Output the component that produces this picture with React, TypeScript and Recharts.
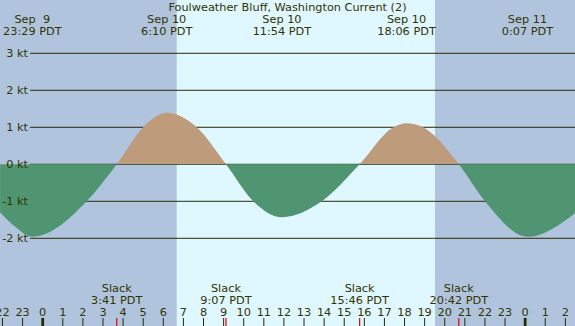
import React from "react";
import {
  ComposedChart,
  Area,
  XAxis,
  YAxis,
  ReferenceArea,
  ReferenceLine,
} from "recharts";

const title = "Foulweather Bluff, Washington Current (2)";

// hours counted from Sep 10 00:00 PDT, speeds in knots (+ flood, - ebb)
const curveHours = [-2.12, -1.38, -0.517, 2.19, 3.683, 5.0, 6.167, 7.66, 9.117, 10.48, 11.9, 13.88, 15.767, 17.44, 18.1, 18.92, 20.7, 22.0, 24.117, 26.48];
const curveKnots = [-1.3, -1.68, -1.96, -1.0, 0, 1.0, 1.39, 1.0, 0, -1.0, -1.43, -1.0, 0, 1.0, 1.11, 1.0, 0, -1.0, -1.96, -1.32];

const eventHours = [-0.517, 6.167, 11.9, 18.1, 24.117];
const eventDates = ["Sep  9", "Sep 10", "Sep 10", "Sep 10", "Sep 11"];
const eventTimes = ["23:29 PDT", "6:10 PDT", "11:54 PDT", "18:06 PDT", "0:07 PDT"];

const slackHours = [3.683, 9.117, 15.767, 20.7];
const slackTimes = ["3:41 PDT", "9:07 PDT", "15:46 PDT", "20:42 PDT"];

const sunrise = 6.667;
const sunset = 19.517;

const hourTicks = [-2, -1, 0, 1, 2, 3, 4, 5, 6, 7, 8, 9, 10, 11, 12, 13, 14, 15, 16, 17, 18, 19, 20, 21, 22, 23, 24, 25, 26];
const knotLevels = [3, 2, 1, 0, -1, -2];

const xDomain = [-2.124, 26.48];
const yDomain = [-4.37, 4.44];
const gridStart = -0.63;

const W = 575;
const H = 326;

const ink = "#333300";
const lineInk = "#2a2a00";
const night = "#b0c4de";
const day = "#dff7ff";
const flood = "#be9b7b";
const ebb = "#509571";
const font = "'DejaVu Sans', Verdana, sans-serif";
const fontSize = 11.3;

const data = curveHours.map((h, i) => ({ h, v: curveKnots[i] }));

const top = Math.max(...curveKnots);
const bottom = Math.min(...curveKnots);
const split = top / (top - bottom);

const layer: React.CSSProperties = { position: "absolute", left: 0, top: 0 };
const margin = { top: 0, right: 0, bottom: 0, left: 0 };

const hourLabel = (h: number) => (props: any) => {
  const { x, y, height } = props.viewBox;
  const base = y + height;
  const hour = ((h % 24) + 24) % 24;
  return (
    <g>
      <text x={x} y={base - 10.3} textAnchor="middle" fill={ink} fontSize={fontSize} fontFamily={font}>
        {hour}
      </text>
      {hour === 0 ? (
        <rect x={x - 1.4} y={base - 8} width={2.8} height={8} fill={lineInk} />
      ) : (
        <line x1={x} x2={x} y1={base - 8} y2={base} stroke={lineInk} strokeWidth={1} />
      )}
    </g>
  );
};

const eventLabel = (date: string, time: string) => (props: any) => {
  const { x, y } = props.viewBox;
  return (
    <text textAnchor="middle" fill={ink} fontSize={fontSize} fontFamily={font} style={{ whiteSpace: "pre" }}>
      <tspan x={x} y={y + 23.3}>{date}</tspan>
      <tspan x={x} y={y + 35}>{time}</tspan>
    </text>
  );
};

const slackLabel = (time: string) => (props: any) => {
  const { x, y, height } = props.viewBox;
  const base = y + height;
  return (
    <g>
      <text textAnchor="middle" fill={ink} fontSize={fontSize} fontFamily={font}>
        <tspan x={x} y={base - 33.7}>Slack</tspan>
        <tspan x={x} y={base - 22}>{time}</tspan>
      </text>
      <line x1={x} x2={x} y1={base - 8} y2={base} stroke="#e00000" strokeWidth={1.2} />
    </g>
  );
};

function KnotTick({ x, y, payload }: any) {
  return (
    <text x={x + 28} y={y + 3.6} textAnchor="end" fill={ink} fontSize={fontSize} fontFamily={font}>
      {`${payload.value} kt`}
    </text>
  );
}

// background: daylight band and knot grid lines (under the current fill)
function Backdrop() {
  return (
    <ComposedChart width={W} height={H} data={data} margin={margin}>
      <XAxis type="number" dataKey="h" domain={xDomain} allowDataOverflow hide />
      <YAxis type="number" domain={yDomain} allowDataOverflow hide />
      <ReferenceArea x1={sunrise} x2={sunset} fill={day} fillOpacity={1} stroke="none" />
      {knotLevels.map((k) => (
        <ReferenceLine
          key={`g${k}`}
          segment={[{ x: gridStart, y: k }, { x: xDomain[1], y: k }]}
          stroke={lineInk}
          strokeWidth={1}
        />
      ))}
    </ComposedChart>
  );
}

// foreground: flood/ebb fill and all labels
function Current() {
  return (
    <ComposedChart width={W} height={H} data={data} margin={margin}>
      <defs>
        <linearGradient id="flowFill" x1="0" y1="0" x2="0" y2="1">
          <stop offset={split} stopColor={flood} stopOpacity={1} />
          <stop offset={split} stopColor={ebb} stopOpacity={1} />
        </linearGradient>
      </defs>
      <XAxis type="number" dataKey="h" domain={xDomain} allowDataOverflow hide />
      <YAxis
        type="number"
        domain={yDomain}
        allowDataOverflow
        mirror
        ticks={knotLevels}
        interval={0}
        axisLine={false}
        tickLine={false}
        tickSize={0}
        tickMargin={0}
        tick={<KnotTick />}
      />
      <Area
        type="monotone"
        dataKey="v"
        baseValue={0}
        stroke="none"
        fill="url(#flowFill)"
        fillOpacity={1}
        style={{ fillOpacity: 1 }}
        dot={false}
        activeDot={false}
        isAnimationActive={false}
      />
      {eventHours.map((h, i) => (
        <ReferenceLine key={`e${i}`} x={h} stroke="none" label={eventLabel(eventDates[i], eventTimes[i])} />
      ))}
      {hourTicks.map((h) => (
        <ReferenceLine key={`h${h}`} x={h} stroke="none" label={hourLabel(h)} />
      ))}
      {slackHours.map((h, i) => (
        <ReferenceLine key={`s${i}`} x={h} stroke="none" label={slackLabel(slackTimes[i])} />
      ))}
    </ComposedChart>
  );
}

export default function App() {
  return (
    <div style={{ ...layer, width: W, height: H, background: night, overflow: "hidden" }}>
      <div style={layer}>
        <Backdrop />
      </div>
      <div style={layer}>
        <Current />
      </div>
      <div
        style={{
          ...layer,
          top: 0.5,
          width: W,
          textAlign: "center",
          fontFamily: font,
          fontSize: fontSize,
          lineHeight: "normal",
          color: ink,
        }}
      >
        {title}
      </div>
    </div>
  );
}
